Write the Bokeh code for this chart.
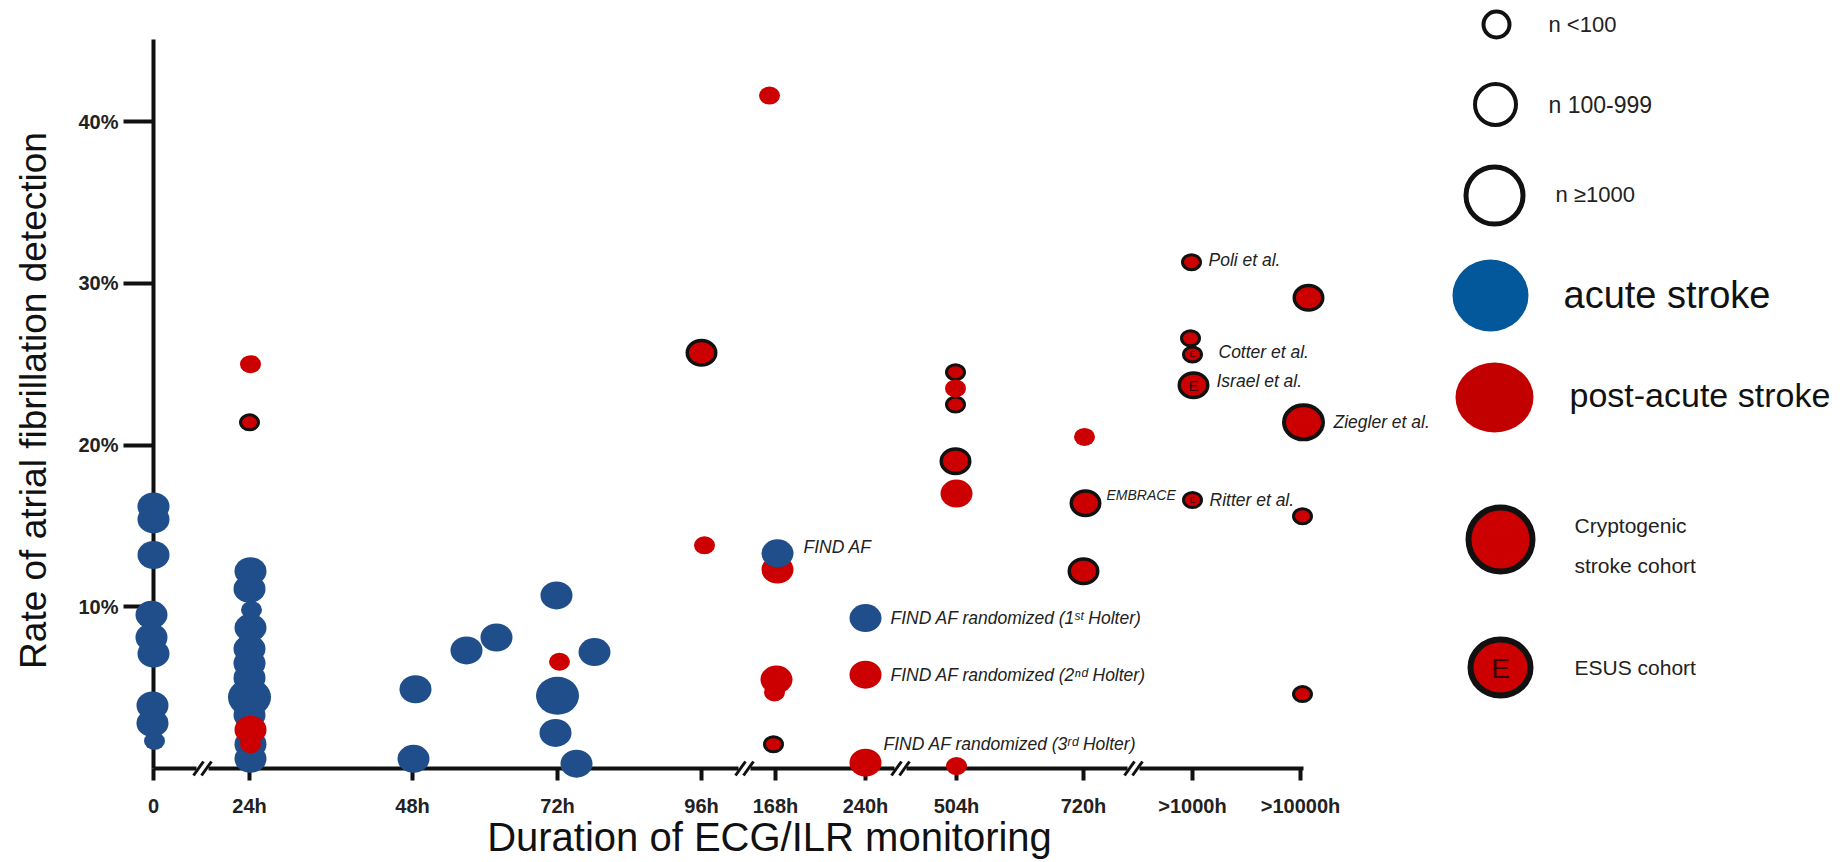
import numpy as np
from bokeh.plotting import figure
from bokeh.models import Range1d, FixedTicker, PrintfTickFormatter, Label, ColumnDataSource
from bokeh.layouts import row
from bokeh.embed import file_html
from bokeh.resources import INLINE
from bokeh.core.properties import value

# ---------------- data ----------------
# broken duration axis: category labels and their position along the axis
tick_labels = ["0", "24h", "48h", "72h", "96h", "168h", "240h", "504h", "720h", ">1000h", ">10000h"]
tick_pos = [0, 96, 259, 404, 548, 622, 712, 803, 930, 1039, 1147]
axis_breaks = [49, 591, 747, 980]
y_ticks = [10, 20, 30, 40]

# acute stroke cohorts (blue)
acute_dur = ["0"] * 9 + ["24h"] * 11 + ["48h"] * 4 + ["72h"] * 5 + ["168h", "240h"]
acute_shift = [0, 0, 0, -2, -2, 0, -1, -1, 1,
               1, 0, 2, 1, 0, 0, 0, 0, 0, 1, 1,
               3, 1, 54, 84,
               -1, 0, -2, 19, 37,
               2, 0]
acute_rate = [16.2, 15.4, 13.2, 9.5, 8.1, 7.1, 3.9, 2.8, 1.7,
              12.2, 11.1, 9.8, 8.7, 7.4, 6.5, 5.6, 4.4, 3.3, 1.5, 0.6,
              4.9, 0.6, 7.3, 8.1,
              10.7, 4.5, 2.2, 0.3, 7.2,
              13.3, 9.3]
acute_size = ["M"] * 8 + ["S"] + \
             ["M", "M", "S", "M", "M", "M", "M", "L", "M", "M", "M"] + \
             ["M"] * 4 + ["M", "L", "M", "M", "M"] + ["M", "M"]
acute_on_top = [False] * 29 + [True, False]

# post-acute stroke cohorts (red); cohort: "" none, "C" cryptogenic, "E" ESUS
post_dur = ["24h"] * 4 + ["72h"] + ["96h"] * 2 + ["168h"] * 5 + ["240h"] * 2 + \
           ["504h"] * 6 + ["720h"] * 3 + [">1000h"] * 5 + [">10000h"] * 4
post_shift = [1, 0, 1, 1,
              2,
              0, 3,
              -6, 2, 1, -1, -2,
              0, 0,
              -1, -1, -1, -1, 0, 0,
              1, 2, 0,
              -1, -2, 0, 1, 0,
              8, 3, 2, 2]
post_rate = [25.0, 21.4, 2.4, 1.5,
             6.6,
             25.7, 13.8,
             41.6, 12.3, 5.5, 4.7, 1.5,
             5.8, 0.36,
             24.5, 23.5, 22.5, 19.0, 17.0, 0.15,
             20.5, 16.4, 12.2,
             31.3, 26.6, 25.6, 23.7, 16.6,
             29.1, 21.4, 15.6, 4.6]
post_size = ["S", "S", "M", "S",
             "S",
             "M", "S",
             "S", "M", "M", "S", "S",
             "M", "M",
             "S", "S", "S", "M", "M", "S",
             "S", "M", "M",
             "S", "S", "S", "M", "S",
             "M", "L", "S", "S"]
post_cohort = ["", "C", "", "",
               "",
               "C", "",
               "", "", "", "", "C",
               "", "",
               "C", "", "C", "C", "", "",
               "", "C", "C",
               "C", "C", "E", "E", "E",
               "C", "C", "C", "C"]

# study annotations: text, series, index of the annotated point
note_text = ["FIND AF", "FIND AF randomized (1\u02e2\u1d57 Holter)",
             "FIND AF randomized (2\u207f\u1d48 Holter)", "FIND AF randomized (3\u02b3\u1d48 Holter)",
             "Poli et al.", "Cotter et al.", "Israel et al.", "Ritter et al.", "Ziegler et al."]
note_series = ["acute", "acute", "post", "post", "post", "post", "post", "post", "post"]
note_index = [29, 30, 12, 13, 23, 25, 26, 27, 29]
note_dx = [26, 25, 25, 18, 17, 26, 23, 17, 30]
note_dy = [-6, 0, 0, -19, -2, -2, -4, 0, 0]
embrace_text = ["EMBRACE"]
embrace_index = [21]

legend_size_labels = ["n <100", "n 100-999", "n \u22651000"]
legend_group_labels = ["acute stroke", "post-acute stroke"]
legend_cohort_labels = ["Cryptogenic", "stroke cohort", "ESUS cohort"]

# ---------------- style ----------------
BLUE = "#1f4e8a"
RED = "#cc0000"
LEG_BLUE = "#03579b"
LEG_RED = "#c20000"
INK = "#111111"
FONT = value("Liberation Sans")
W = {"S": 21, "M": 32, "L": 43}
H = {"S": 18, "M": 28, "L": 38}
LW = {"S": 3.0, "M": 3.5, "L": 4.0}
E_FONT = {"S": "9px", "M": "15px", "L": "18px"}

pos_of = dict(zip(tick_labels, tick_pos))

FIG_W, FIG_H = 1445, 860
X0, X1 = -153, 1292
PX_PER_PCT = 16.175
Y1 = 768 / PX_PER_PCT
Y0 = (768 - FIG_H) / PX_PER_PCT
py = PX_PER_PCT

p = figure(width=FIG_W, height=FIG_H, x_range=Range1d(X0, X1), y_range=Range1d(Y0, Y1),
           output_backend="svg", toolbar_location=None, min_border=0)
p.outline_line_color = None
p.grid.visible = False
p.background_fill_color = "white"
p.border_fill_color = "white"

for ax in (p.xaxis[0], p.yaxis[0]):
    ax.fixed_location = 0
    ax.axis_line_width = 4
    ax.axis_line_color = INK
    ax.major_tick_line_width = 4
    ax.major_tick_line_color = INK
    ax.minor_tick_line_color = None
    ax.major_tick_in = 0
    ax.major_label_text_font = "Liberation Sans"
    ax.major_label_text_font_style = "bold"
    ax.major_label_text_font_size = "20px"
    ax.major_label_text_color = "#222222"
    ax.level = "underlay"

p.xaxis.bounds = (0, 1150)
p.xaxis.ticker = FixedTicker(ticks=tick_pos)
p.xaxis.major_label_overrides = {t: l for t, l in zip(tick_pos, tick_labels)}
p.xaxis.major_tick_out = 12
p.xaxis.major_label_standoff = 14

p.yaxis.bounds = (0, 45.1)
p.yaxis.ticker = FixedTicker(ticks=y_ticks)
p.yaxis.formatter = PrintfTickFormatter(format="%d%%")
p.yaxis.major_tick_out = 30
p.yaxis.major_label_standoff = 5
p.yaxis.major_label_orientation = "horizontal"

# axis breaks "//"
bx = np.array(axis_breaks, dtype=float)
p.rect(x=bx, y=np.zeros_like(bx), width=12, height=10, width_units="screen",
       height_units="screen", fill_color="white", line_color=None)
for s in (-4, 4):
    p.segment(x0=bx + s - 5, y0=np.full_like(bx, -7 / py), x1=bx + s + 5, y1=np.full_like(bx, 7 / py),
              line_color=INK, line_width=3)


def make_source(dur, shift, rate, size, cohort):
    xs = [pos_of[d] + s for d, s in zip(dur, shift)]
    lw = [LW[z] if c else 0 for z, c in zip(size, cohort)]
    w = [W[z] - l for z, l in zip(size, lw)]
    h = [H[z] - l for z, l in zip(size, lw)]
    return dict(x=xs, y=list(rate), w=w, h=h, lw=lw, size=list(size), cohort=list(cohort))


a_all = make_source(acute_dur, acute_shift, acute_rate, acute_size, [""] * len(acute_dur))
r_all = make_source(post_dur, post_shift, post_rate, post_size, post_cohort)


def subset(d, mask):
    return ColumnDataSource({k: [v for v, m in zip(vals, mask) if m] for k, vals in d.items()})


a_back = subset(a_all, [not t for t in acute_on_top])
a_front = subset(a_all, acute_on_top)
r_ring = subset(r_all, [c != "" for c in post_cohort])
r_plain = subset(r_all, [c == "" for c in post_cohort])
r_esus = subset(r_all, [c == "E" for c in post_cohort])

p.ellipse(x="x", y="y", width="w", height="h", width_units="screen", height_units="screen",
          source=a_back, fill_color=BLUE, line_color=None)
p.ellipse(x="x", y="y", width="w", height="h", width_units="screen", height_units="screen",
          source=r_ring, fill_color=RED, line_color=INK, line_width="lw")
p.ellipse(x="x", y="y", width="w", height="h", width_units="screen", height_units="screen",
          source=r_plain, fill_color=RED, line_color=None)
p.ellipse(x="x", y="y", width="w", height="h", width_units="screen", height_units="screen",
          source=a_front, fill_color=BLUE, line_color=None)
esus_src = r_esus.data
p.text(x=esus_src["x"], y=esus_src["y"], text=["E"] * len(esus_src["x"]),
       text_font=FONT, text_font_size=[E_FONT[z] for z in esus_src["size"]],
       text_color="#3a0000", text_align="center", text_baseline="middle")

# study annotations
nx, ny = [], []
for ser, i in zip(note_series, note_index):
    d = a_all if ser == "acute" else r_all
    nx.append(d["x"][i])
    ny.append(d["y"][i])
p.text(x=nx, y=ny, text=note_text, x_offset=note_dx, y_offset=note_dy,
       text_font=FONT, text_font_style="italic", text_font_size="17.5px",
       text_color="#222222", text_align="left", text_baseline="middle")
p.text(x=[r_all["x"][i] for i in embrace_index], y=[r_all["y"][i] for i in embrace_index],
       text=embrace_text, x_offset=21, y_offset=-8,
       text_font=FONT, text_font_style="italic", text_font_size="14px",
       text_color="#222222", text_align="left", text_baseline="middle")

# axis titles
p.add_layout(Label(x=616, y=(768 - 836) / PX_PER_PCT, text="Duration of ECG/ILR monitoring",
                   text_font="Liberation Sans", text_font_size="40px", text_color="#111111",
                   text_align="center", text_baseline="middle"))
p.add_layout(Label(x=-120, y=22.75, text="Rate of atrial fibrillation detection", angle=np.pi / 2,
                   text_font="Liberation Sans", text_font_size="37px", text_color="#111111",
                   text_align="center", text_baseline="middle"))

# ---------------- legend panel ----------------
LG_W = 398
lg = figure(width=LG_W, height=FIG_H, x_range=Range1d(0, LG_W), y_range=Range1d(FIG_H, 0),
            output_backend="svg", toolbar_location=None, min_border=0)
lg.axis.visible = False
lg.grid.visible = False
lg.outline_line_color = None

lg.ellipse(x=[51, 50, 49], y=[24, 104, 195], width=[26, 41, 57], height=[26, 41, 57],
           fill_color=None, line_color=INK, line_width=[4, 4, 5])
lg.text(x=[103, 103, 110], y=[24, 104, 194], text=legend_size_labels, text_font=FONT,
        text_font_size=["22px", "23px", "22px"], text_color="#222222", text_baseline="middle")
lg.ellipse(x=[45, 49], y=[295, 397], width=[76, 78], height=[72, 70],
           fill_color=[LEG_BLUE, LEG_RED], line_color=None)
lg.text(x=[118, 124], y=[294, 394], text=legend_group_labels, text_font=FONT,
        text_font_size=["38px", "34px"], text_color="#111111", text_baseline="middle")
lg.ellipse(x=[55, 55], y=[539, 667], width=[64, 60], height=[64, 56],
           fill_color=RED, line_color=INK, line_width=6)
lg.text(x=[55], y=[668], text=["E"], text_font=FONT, text_font_size="28px",
        text_color="#3a0000", text_align="center", text_baseline="middle")
lg.text(x=[129, 129, 129], y=[525, 565, 667], text=legend_cohort_labels, text_font=FONT,
        text_font_size="21px", text_color="#222222", text_baseline="middle")

layout = row(p, lg)
open("out.html", "w").write(file_html(layout, INLINE))
